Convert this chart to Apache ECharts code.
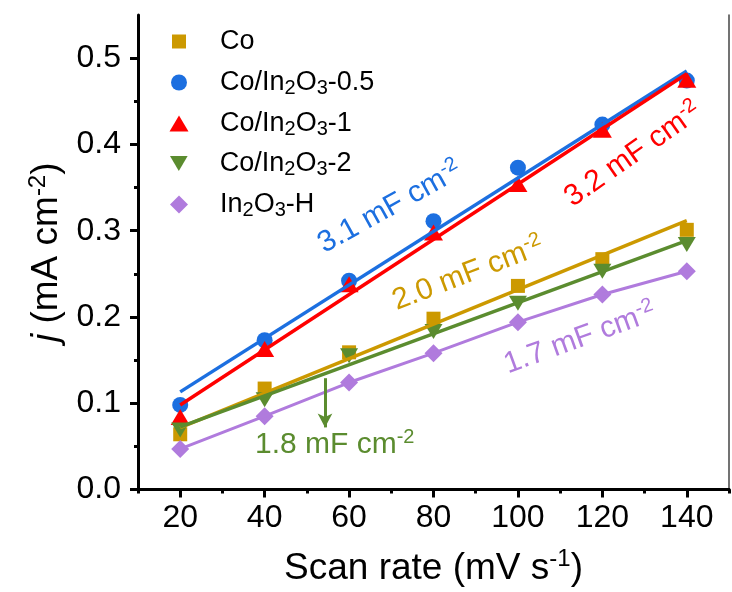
<!DOCTYPE html>
<html>
<head>
<meta charset="utf-8">
<script src="https://cdn.jsdelivr.net/npm/echarts@6/dist/echarts.min.js"></script>
<style>
  html, body { margin: 0; padding: 0; background: #fff; }
  #chart { width: 732px; height: 592px; }
</style>
</head>
<body>
<div id="chart"></div>
<script>
// Scan rates (mV s-1) and double-layer charging current densities (mA cm-2)
const scanRates = [20, 40, 60, 80, 100, 120, 140];
const coJ      = [0.064, 0.117, 0.159, 0.198, 0.236, 0.267, 0.301];
const coIn05J  = [0.098, 0.173, 0.242, 0.311, 0.373, 0.423, 0.474];
const coIn1J   = [0.084, 0.163, 0.238, 0.298, 0.354, 0.417, 0.475];
const coIn2J   = [0.069, 0.104, 0.155, 0.183, 0.216, 0.253, 0.284];
const in2o3HJ  = [0.047, 0.085, 0.124, 0.158, 0.194, 0.226, 0.253];

// Cdl values (mF cm-2) quoted next to each fitted line
const cdlCo = 2.0, cdlCoIn05 = 3.1, cdlCoIn1 = 3.2, cdlCoIn2 = 1.8, cdlIn2o3H = 1.7;

// Axis ticks
const xMajorTicks = [20, 40, 60, 80, 100, 120, 140];
const xMinorTicks = [10, 30, 50, 70, 90, 110, 130, 150];
const yMajorTicks = [0, 0.1, 0.2, 0.3, 0.4, 0.5];
const yMinorTicks = [0.05, 0.15, 0.25, 0.35, 0.45];

const FONT = "'Liberation Sans', Arial, sans-serif";
const C_GOLD = '#CC9900', C_BLUE = '#1C6FE0', C_RED = '#FF0000', C_GREEN = '#5B8C2F', C_PURPLE = '#B07BDD';

const pairs = ys => scanRates.map((x, i) => [x, ys[i]]);

// Straight line with the quoted slope (mF cm-2 -> mA cm-2 per mV s-1) through the data centroid
function fitLine(ys, cdl) {
  const n = ys.length;
  const mx = scanRates.reduce((a, b) => a + b, 0) / n;
  const my = ys.reduce((a, b) => a + b, 0) / n;
  const k = cdl / 1000;
  const x0 = scanRates[0], x1 = scanRates[n - 1];
  return [[x0, my + k * (x0 - mx)], [x1, my + k * (x1 - mx)]];
}

const chart = echarts.init(document.getElementById('chart'), null, { renderer: 'canvas' });

const legendRich = {
  t:   { fontSize: 27, lineHeight: 32, fontFamily: FONT, color: '#000' },
  sub: { fontSize: 20, lineHeight: 15, verticalAlign: 'bottom', fontFamily: FONT, color: '#000' }
};
const legendLabels = {
  'Co': '{t|Co}',
  'Co/In2O3-0.5': '{t|Co/In}{sub|2}{t|O}{sub|3}{t|-0.5}',
  'Co/In2O3-1': '{t|Co/In}{sub|2}{t|O}{sub|3}{t|-1}',
  'Co/In2O3-2': '{t|Co/In}{sub|2}{t|O}{sub|3}{t|-2}',
  'In2O3-H': '{t|In}{sub|2}{t|O}{sub|3}{t|-H}'
};
const INV_TRI = 'path://M0,0L20,0L10,17Z';

function legendRow(name, icon, w, h, rowY) {
  const cx = 179;
  const spacer = 220 - (cx + w / 2 + 5);
  return {
    data: [name], icon: icon, itemWidth: w, itemHeight: h,
    left: cx - w / 2, top: rowY - 16, padding: 0, selectedMode: false,
    formatter: n => '{sp|}' + legendLabels[n],
    textStyle: { rich: Object.assign({ sp: { width: spacer, lineHeight: 32 } }, legendRich) }
  };
}

const titleRich = {
  t: { fontSize: 37, lineHeight: 42, fontFamily: FONT, color: '#000' },
  i: { fontSize: 37, lineHeight: 42, fontStyle: 'italic', fontFamily: FONT, color: '#000' },
  sup: { fontSize: 24, lineHeight: 18, verticalAlign: 'top', fontFamily: FONT, color: '#000' }
};

const option = {
  animation: false,
  backgroundColor: '#fff',
  textStyle: { fontFamily: FONT },
  grid: { left: 138, right: 3, top: 15, bottom: 100, containLabel: false },
  legend: [
    legendRow('Co', 'rect', 14, 14, 44),
    legendRow('Co/In2O3-0.5', 'circle', 16, 16, 85),
    legendRow('Co/In2O3-1', 'triangle', 19, 16, 126),
    legendRow('Co/In2O3-2', INV_TRI, 18, 15, 166),
    legendRow('In2O3-H', 'diamond', 18, 18, 207)
  ],
  xAxis: [
    {
      type: 'value', position: 'bottom', min: 10, max: 150,
      name: '{t|Scan rate (mV s}{sup|-1}{t|)}', nameLocation: 'middle', nameGap: 58,
      nameTextStyle: { rich: titleRich },
      axisLine: { show: true, lineStyle: { color: '#000', width: 3 } },
      axisTick: { show: true, length: 8, customValues: xMajorTicks, lineStyle: { color: '#000', width: 3 } },
      axisLabel: { show: true, customValues: xMajorTicks, margin: 13, fontSize: 32, color: '#000', fontFamily: FONT },
      splitLine: { show: false }
    },
    {
      type: 'value', position: 'bottom', min: 10, max: 150,
      axisLine: { show: false },
      axisTick: { show: true, length: 4, customValues: xMinorTicks, lineStyle: { color: '#000', width: 3 } },
      axisLabel: { show: false }, splitLine: { show: false }
    },
    {
      type: 'value', position: 'top', min: 10, max: 150,
      axisLine: { show: true, lineStyle: { color: '#000', width: 3 } },
      axisTick: { show: false }, axisLabel: { show: false }, splitLine: { show: false }
    }
  ],
  yAxis: [
    {
      type: 'value', position: 'left', min: 0, max: 0.55,
      name: '{i|j}{t| (mA cm}{sup|-2}{t|)}', nameLocation: 'middle', nameGap: 70,
      nameTextStyle: { rich: titleRich },
      axisLine: { show: true, lineStyle: { color: '#000', width: 3 } },
      axisTick: { show: true, length: 8, customValues: yMajorTicks, lineStyle: { color: '#000', width: 3 } },
      axisLabel: {
        show: true, customValues: yMajorTicks, margin: 17, fontSize: 32, color: '#000', fontFamily: FONT,
        formatter: v => v.toFixed(1)
      },
      splitLine: { show: false }
    },
    {
      type: 'value', position: 'left', min: 0, max: 0.55,
      axisLine: { show: false },
      axisTick: { show: true, length: 4, customValues: yMinorTicks, lineStyle: { color: '#000', width: 3 } },
      axisLabel: { show: false }, splitLine: { show: false }
    },
    {
      type: 'value', position: 'right', min: 0, max: 0.55,
      axisLine: { show: true, lineStyle: { color: '#444', width: 1.5 } },
      axisTick: { show: false }, axisLabel: { show: false }, splitLine: { show: false }
    }
  ],
  series: [
    { name: 'Co', type: 'scatter', data: pairs(coJ), symbol: 'rect', symbolSize: 14, itemStyle: { color: C_GOLD, opacity: 1 }, z: 2 },
    { name: 'Co/In2O3-0.5', type: 'scatter', data: pairs(coIn05J), symbol: 'circle', symbolSize: 16, itemStyle: { color: C_BLUE, opacity: 1 }, z: 2 },
    { name: 'Co/In2O3-1', type: 'scatter', data: pairs(coIn1J), symbol: 'triangle', symbolSize: [19, 16], itemStyle: { color: C_RED, opacity: 1 }, z: 2 },
    { name: 'Co/In2O3-2', type: 'scatter', data: pairs(coIn2J), symbol: INV_TRI, symbolSize: [18, 15], itemStyle: { color: C_GREEN, opacity: 1 }, z: 2 },
    { name: 'In2O3-H', type: 'scatter', data: pairs(in2o3HJ), symbol: 'diamond', symbolSize: 18, itemStyle: { color: C_PURPLE, opacity: 1 }, z: 2 },

    { name: 'fit-Co', type: 'line', data: fitLine(coJ, cdlCo), showSymbol: false, lineStyle: { color: C_GOLD, width: 3.5 }, z: 3 },
    { name: 'fit-Co/In2O3-0.5', type: 'line', data: fitLine(coIn05J, cdlCoIn05), showSymbol: false, lineStyle: { color: C_BLUE, width: 3.5 }, z: 3 },
    { name: 'fit-Co/In2O3-1', type: 'line', data: fitLine(coIn1J, cdlCoIn1), showSymbol: false, lineStyle: { color: C_RED, width: 3.5 }, z: 3 },
    {
      name: 'fit-Co/In2O3-2', type: 'line', data: fitLine(coIn2J, cdlCoIn2), showSymbol: false,
      lineStyle: { color: C_GREEN, width: 3.5 }, z: 3,
      markLine: {
        silent: true, symbol: ['none', 'arrow'], symbolSize: [11, 14],
        lineStyle: { color: C_GREEN, width: 3, type: 'solid' }, label: { show: false },
        data: [[{ coord: [54.3, 0.129] }, { coord: [54.3, 0.072] }]]
      }
    },
    { name: 'trace-In2O3-H', type: 'line', data: pairs(in2o3HJ), showSymbol: false, lineStyle: { color: C_PURPLE, width: 3 }, z: 3 }
  ]
};

chart.setOption(option);

// Rotated Cdl annotations, anchored in data coordinates
function note(text, color, at, angleDeg) {
  const p = chart.convertToPixel({ gridIndex: 0 }, at);
  return {
    type: 'text', x: p[0], y: p[1], rotation: angleDeg * Math.PI / 180, z: 10, silent: true,
    style: {
      text: text, align: 'center', verticalAlign: 'middle',
      rich: {
        t:   { fontSize: 30, lineHeight: 35, fontFamily: FONT, fill: color, color: color },
        sup: { fontSize: 20, lineHeight: 16, verticalAlign: 'top', fontFamily: FONT, fill: color, color: color }
      }
    }
  };
}
const cdlText = v => '{t|' + v.toFixed(1) + ' mF cm}{sup|-2}';

chart.setOption({
  graphic: [
    note(cdlText(cdlCoIn05), C_BLUE,  [69.7, 0.327], 29),
    note(cdlText(cdlCoIn1),  C_RED,   [127.3, 0.388], 35),
    note(cdlText(cdlCo),     C_GOLD,  [88.2, 0.250], 21),
    note(cdlText(cdlIn2o3H), C_PURPLE,[114.7, 0.175], 20),
    note(cdlText(cdlCoIn2),  C_GREEN, [56.6, 0.052], 0)
  ]
});
</script>
</body>
</html>
